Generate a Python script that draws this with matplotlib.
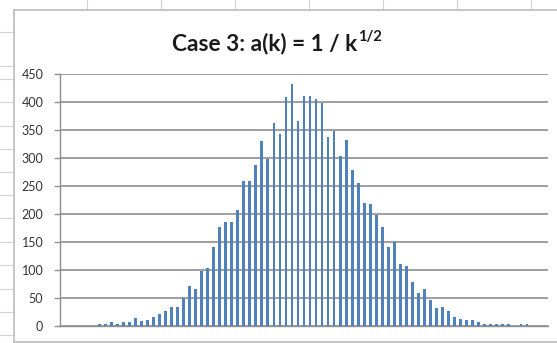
import numpy as np
import matplotlib
matplotlib.use("Agg")
import matplotlib.pyplot as plt
from matplotlib.lines import Line2D

# histogram counts per bin (81 bins, empty bins at both ends)
counts = [0, 0, 0, 0, 0, 0,
          3, 3, 6, 3, 6, 6, 14, 9, 11, 16, 21, 27, 33, 33,
          49, 71, 65, 98, 104, 140, 177, 185, 185, 207,
          259, 259, 288, 330, 298, 363, 344, 410, 433, 366,
          412, 412, 405, 398, 337, 348, 304, 332, 278, 256,
          220, 217, 198, 177, 140, 149, 110, 107, 79, 58,
          65, 46, 32, 33, 27, 16, 12, 10, 10, 6,
          3, 3, 3, 3, 3, 0, 3, 3,
          0, 0, 0]
bins = np.arange(len(counts))
yticks = [0, 50, 100, 150, 200, 250, 300, 350, 400, 450]

title_main = "Case 3: a(k) = 1 / k"
title_sup = "1/2"

W, H = 557, 343
fig = plt.figure(figsize=(W / 100, H / 100), dpi=100)
fig.patch.set_facecolor("white")

def fx(px):
    return px / W

def fy(py):
    return 1 - py / H

# worksheet cell lines around the chart
grid_c = "#d4d4d4"
for xc in [87, 161, 235, 309, 383, 457, 531]:
    fig.add_artist(Line2D([fx(xc), fx(xc)], [fy(0), fy(10)], color=grid_c, lw=0.8))
for yr in [32, 66, 79, 102, 126, 149, 172, 195, 218, 242, 265, 289, 312, 335]:
    fig.add_artist(Line2D([fx(0), fx(14)], [fy(yr), fy(yr)], color=grid_c, lw=0.8))

# chart area border
border_c = "#bcbcbc"
fig.add_artist(Line2D([fx(14), fx(14)], [fy(10), fy(343)], color=border_c, lw=1.2))
fig.add_artist(Line2D([fx(14), fx(557)], [fy(10), fy(10)], color=border_c, lw=1.2))
fig.add_artist(Line2D([fx(14), fx(557)], [fy(341.5), fy(341.5)], color=border_c, lw=1.2))

ax = fig.add_axes([fx(60), fy(325.7), fx(548) - fx(60), fy(74.3) - fy(325.7)])
ax.bar(bins, counts, width=0.45, color="#4f81bd", zorder=3)
ax.set_xlim(-0.5, len(counts) - 0.5)
ax.set_ylim(0, 450)
ax.set_yticks(yticks)
ax.set_xticks([])
ax.yaxis.grid(True, color="#8f8f8f", lw=1.2, zorder=0)
for s in ["top", "right"]:
    ax.spines[s].set_visible(False)
for s in ["left", "bottom"]:
    ax.spines[s].set_color("#8f8f8f")
    ax.spines[s].set_linewidth(1.0)
ax.tick_params(axis="y", length=4, width=1.0, color="#8f8f8f", pad=8,
               labelsize=9, labelcolor="#333333")
for lab in ax.get_yticklabels():
    lab.set_family("Lato")

# title with superscript exponent
t = fig.text(fx(172), fy(50), title_main, ha="left", va="baseline",
             fontsize=16.3, fontweight="bold", family="Lato", color="#1a1a1a")
fig.canvas.draw()
bb = t.get_window_extent()
fig.text(bb.x1 / W + fx(1), fy(41), title_sup, ha="left", va="baseline",
         fontsize=10.5, fontweight="bold", family="Lato", color="#1a1a1a")

fig.savefig("out.png", dpi=100)
